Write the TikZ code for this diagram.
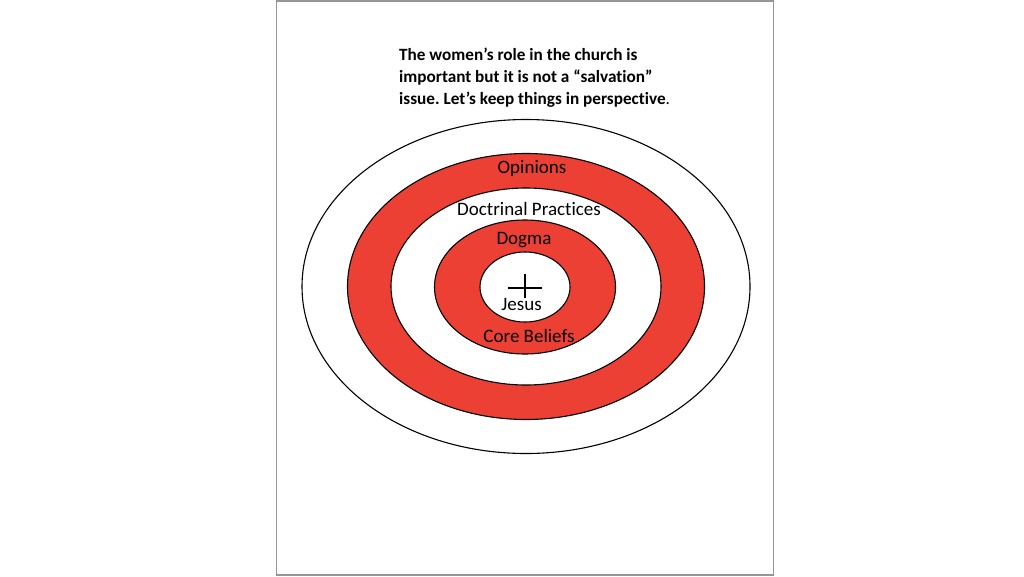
\documentclass[tikz,border=0pt]{standalone}
\usepackage{fontspec}
\setmainfont{Carlito}[Ligatures=NoCommon]
\definecolor{targetred}{RGB}{237, 64, 52}
\definecolor{framegray}{RGB}{150, 150, 150}
\usetikzlibrary{positioning}

\begin{document}
\frenchspacing
\begin{tikzpicture}[x=1pt, y=-1pt,
    ring/.style={draw=black, line width=1.1pt},
    ringlabel/.style={font=\fontsize{19}{21}\selectfont, inner sep=0pt}]
  % page size
  \useasboundingbox (0,0) rectangle (1024,576);

  % slide frame
  \draw[framegray, line width=1.2pt] (276.5,1) rectangle (773.5,575);

  % title text
  \node[font=\fontsize{17.2}{22}\selectfont\bfseries, align=left, anchor=north west,
        inner sep=0pt] (title) at (399,48)
    {The women’s role in the church is\\
     important but it is not a “salvation”\\
     issue. Let’s keep things in perspective{\mdseries.}};

  % target rings, outer to inner
  \coordinate (centre) at (526,286.5);
  \draw[ring, fill=white] (centre) ellipse (224 and 167);
  \draw[ring, fill=targetred] (centre) ellipse (178.5 and 133);
  \draw[ring, fill=white] (526,286.5) ellipse (135 and 98.5);
  \draw[ring, fill=targetred] (525,287) ellipse (90.5 and 67);
  \draw[ring, fill=white] (525,287) ellipse (45 and 35);

  % cross in the middle
  \coordinate (crosstop) at (525,274);
  \coordinate (crossbot) at (525,298);
  \coordinate (crossleft) at (508,288);
  \coordinate (crossright) at (542,288);
  \draw[line width=1.1pt] (crosstop) -- (crossbot);
  \draw[line width=1.1pt] (crossleft) -- (crossright);

  % ring labels
  \node[ringlabel] (opinions) at (532,168) {Opinions};
  \node[ringlabel] (practices) at (529,209) {Doctrinal Practices};
  \node[ringlabel] (dogma) at (524,240) {Dogma};
  \node[ringlabel] (jesus) at (521.5,304) {Jesus};
  \node[ringlabel] (beliefs) at (529,336) {Core Beliefs};
\end{tikzpicture}
\end{document}
